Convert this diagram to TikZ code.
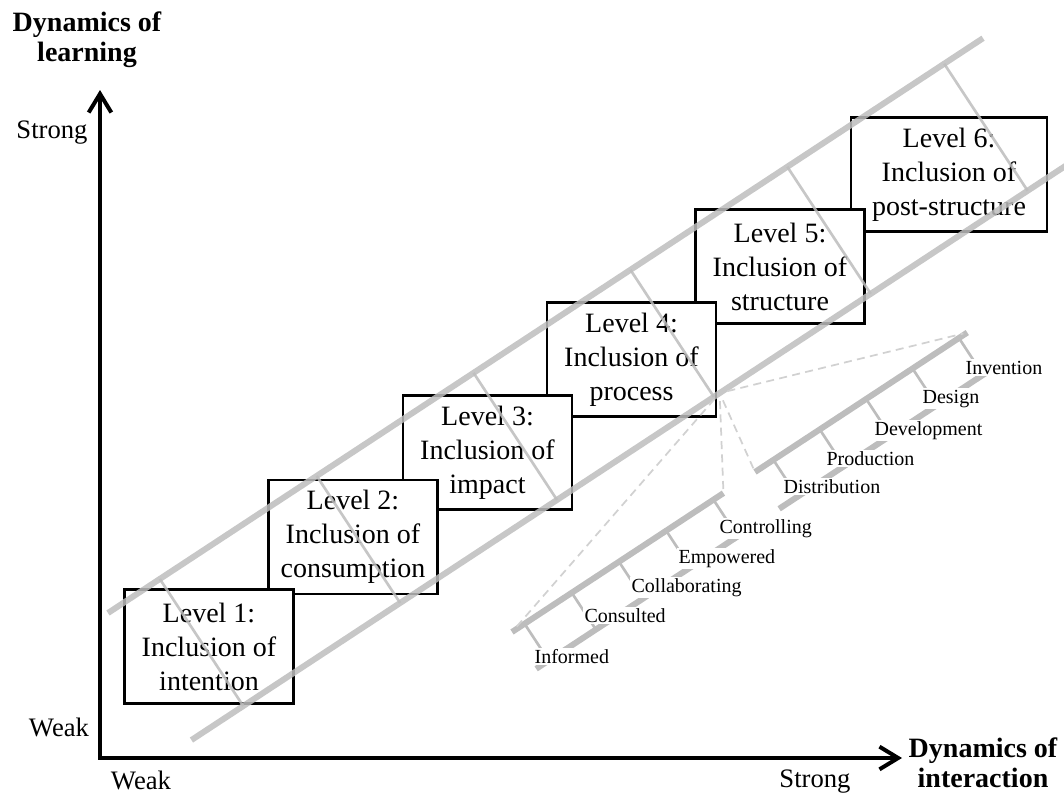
\documentclass[tikz,border=0pt]{standalone}
\usepackage{fontspec}
\setmainfont{Liberation Serif}
\usepackage{tikz}
\usetikzlibrary{arrows.meta}
\definecolor{lg}{rgb}{.74,.74,.74}
\definecolor{dg}{rgb}{.82,.82,.82}
\tikzstyle{level}=[draw,line width=2pt,fill=white,minimum width=126.75pt,minimum height=85.5pt,inner sep=1pt,align=center,font=\fontsize{21}{25.5}\selectfont]
\tikzstyle{rail}=[lg,line width=4.5pt]
\tikzstyle{rung}=[lg,line width=2pt]
\tikzstyle{zoomline}=[dg,line width=1.3pt,dash pattern=on 6pt off 4pt,shorten <=6pt,shorten >=3pt]
\tikzstyle{rlabel}=[fill=white,inner sep=1pt,anchor=base west,font=\fontsize{15}{18}\selectfont]
\tikzstyle{axis}=[line width=3pt]
\tikzstyle{axislabel}=[inner sep=0pt,anchor=base,font=\fontsize{20}{24}\selectfont]
\tikzstyle{axistitle}=[inner sep=0pt,align=center,font=\fontsize{21}{22.5}\bfseries\selectfont]

\begin{document}
\begin{tikzpicture}[>={Straight Barb[length=14pt,width=17pt]},x=.75pt,y=-.75pt]
	\useasboundingbox (0,0) rectangle (1064,796);
	% axes
	\coordinate (o) at (100,758);
	\coordinate (ytop) at (100,90);
	\coordinate (xend) at (902,758);
	\draw[axis,<->] (ytop) -- (o) -- (xend);
	\node[axistitle] (ylab) at (87,40) {Dynamics of\\learning};
	\node[axistitle] (xlab) at (983,763) {Dynamics of\\interaction};
	\node[axislabel] (ystrong) at (52,138) {Strong};
	\node[axislabel] (yweak) at (59,736) {Weak};
	\node[axislabel] (xweak) at (141,789) {Weak};
	\node[axislabel] (xstrong) at (815,787) {Strong};
	% levels, lower ones in front
	\node[level,minimum width=147pt] (l6) at (949,174.5) {Level 6:\\Inclusion of\\post-structure};
	\node[level] (l5) at (780,266.5) {Level 5:\\Inclusion of\\structure};
	\node[level] (l4) at (631.5,359.5) {Level 4:\\Inclusion of\\process};
	\node[level] (l3) at (487.5,452.5) {Level 3:\\Inclusion of\\impact};
	\node[level] (l2) at (353,537) {Level 2:\\Inclusion of\\consumption};
	\node[level] (l1) at (209,646.5) {Level 1:\\Inclusion of\\intention};
	% big ladder
	\begin{scope}[shift={(108,613)},rotate=33.3,opacity=.85]
		\draw[rail] (0,0) -- (1047,0) (0,152) -- (1047,152);
		\foreach \s in {0,...,5}
			\draw[rung] (62+187.7*\s,0) -- ++(0,152);
		\coordinate (f) at (632,152);
	\end{scope}
	% small ladders
	\begin{scope}[shift={(512,632)},rotate=33.3]
		\draw[rail] (0,0) -- (253,0) (0,44) -- (253,44);
		\foreach \s in {0,...,4}
			\draw[rung] (15+56.5*\s,0) -- ++(0,44);
		\coordinate (a0) at (0,0);
		\coordinate (a1) at (253,0);
	\end{scope}
	\begin{scope}[shift={(755,472)},rotate=33.3]
		\draw[rail] (0,0) -- (254,0) (0,44) -- (254,44);
		\foreach \s in {0,...,4}
			\draw[rung] (22+55.5*\s,0) -- ++(0,44);
		\coordinate (b0) at (0,0);
		\coordinate (b1) at (254,0);
	\end{scope}
	\path[zoomline]
		(f) edge (a0)
		(f) edge (a1)
		(f) edge (b0)
		(f) edge (b1);
	\foreach \t/\x/\y in {Informed/533/663,Consulted/583/622,Collaborating/630/592,Empowered/677/563,Controlling/718/533,
		Distribution/782/493,Production/825/465,Development/873/435,Design/921/403,Invention/964/374}
		\node[rlabel] (\t) at (\x,\y) {\t};
\end{tikzpicture}
\end{document}
